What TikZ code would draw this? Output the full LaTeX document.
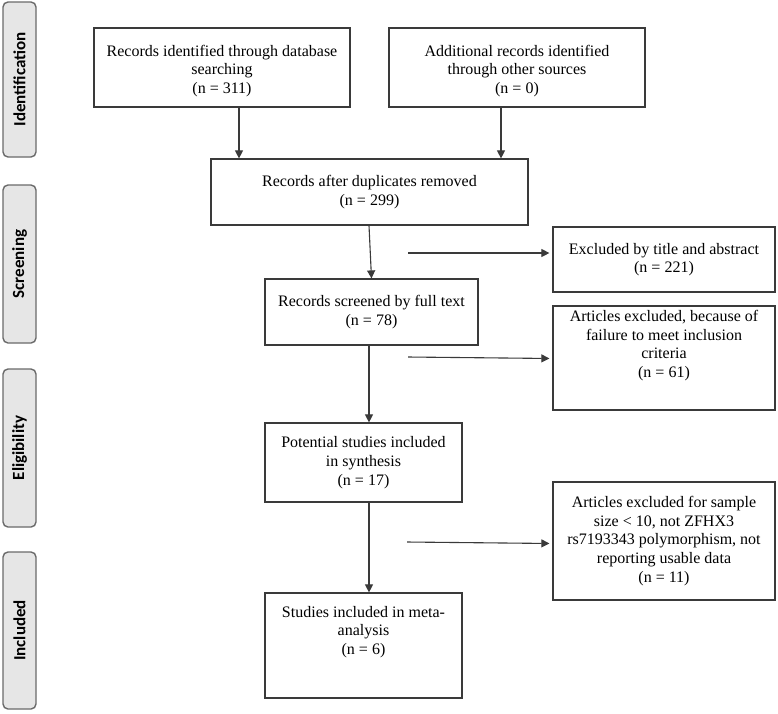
\documentclass[tikz,border=0pt]{standalone}
\usepackage{fontspec}
\setmainfont{Liberation Serif}
\newfontfamily\sidefont{Carlito}
\usetikzlibrary{arrows.meta}
\definecolor{boxline}{HTML}{3A3A3A}
\definecolor{sidefill}{HTML}{E6E6E6}
\definecolor{sideline}{HTML}{6A6A6A}
\begin{document}
\begin{tikzpicture}[x=1pt,y=-1pt,
  box/.style={draw=boxline, line width=1.2pt, align=center, inner sep=0pt,
    font=\fontsize{16}{18.7}\selectfont},
  side/.style={draw=sideline, fill=sidefill, line width=1.4pt, rounded corners=5pt,
    rotate=90, inner sep=0pt, minimum height=33pt,
    font=\sidefont\bfseries\fontsize{17}{20}\selectfont},
  arr/.style={draw=boxline, line width=1.1pt, -{Triangle[length=8pt,width=8pt]}}]
\useasboundingbox (0,0) rectangle (778,713);

% phase bars
\node[side, minimum width=155pt] (s1) at (19.5,79.5) {Identification};
\node[side, minimum width=158pt] (s2) at (19.5,264) {Screening};
\node[side, minimum width=158pt] (s3) at (19.5,448) {Eligibility};
\node[side, minimum width=157pt] (s4) at (19.5,630.5) {Included};

% boxes
\node[box, minimum width=256pt, minimum height=79pt] (b1) at (222,67.5)
  {\rule{0pt}{18pt}Records identified through database\\searching\\(n = 311)};
\node[box, minimum width=256pt, minimum height=79pt] (b2) at (517,67.5)
  {\rule{0pt}{18pt}Additional records identified\\through other sources\\(n = 0)};
\node[box, minimum width=317pt, minimum height=66pt] (b3) at (369.5,192)
  {Records after duplicates removed\\(n = 299)};
\node[box, minimum width=222pt, minimum height=65pt] (b4) at (664,259.5)
  {Excluded by title and abstract\\(n = 221)};
\node[box, minimum width=213pt, minimum height=66pt] (b5) at (371.5,312)
  {Records screened by full text\\(n = 78)};
\node[box, minimum width=222pt, minimum height=104pt] (b6) at (664,358)
  {Articles excluded, because of\\failure to meet inclusion\\criteria\\(n = 61)\\[9.8pt]\mbox{}};
\node[box, minimum width=197pt, minimum height=79pt] (b7) at (363.5,462.5)
  {Potential studies included\\in synthesis\\(n = 17)};
\node[box, minimum width=222pt, minimum height=118pt] (b8) at (664,541)
  {Articles excluded for sample\\size < 10, not ZFHX3\\rs7193343 polymorphism, not\\reporting usable data\\(n = 11)};
\node[box, minimum width=197pt, minimum height=105pt] (b9) at (363.5,645.5)
  {Studies included in meta-\\analysis\\(n = 6)\\[11.8pt]\mbox{}};

% vertical connectors
\draw[arr] ([xshift=17pt]b1.south) -- ([xshift=17pt]b1.south |- b3.north);
\draw[arr] ([xshift=-16pt]b2.south) -- ([xshift=-16pt]b2.south |- b3.north);
\draw[arr] ([xshift=-0.5pt]b3.south) -- (b5.north);
\draw[arr] ([xshift=-2.5pt]b5.south) -- ([xshift=-2.5pt]b5.south |- b7.north);
\draw[arr] ([xshift=5.5pt]b7.south) -- ([xshift=5.5pt]b7.south |- b9.north);

% exclusion arrows
\coordinate (h1) at (408,253);
\coordinate (h2) at (408,357);
\coordinate (h3) at (407,542);
\draw[arr, shorten >=3pt] (h1) -- (h1 -| b4.west);
\draw[arr, shorten >=3pt] (h2) -- ([yshift=-1.5pt]h2 -| b6.west);
\draw[arr, shorten >=3pt] (h3) -- ([yshift=-1.5pt]h3 -| b8.west);
\end{tikzpicture}
\end{document}
